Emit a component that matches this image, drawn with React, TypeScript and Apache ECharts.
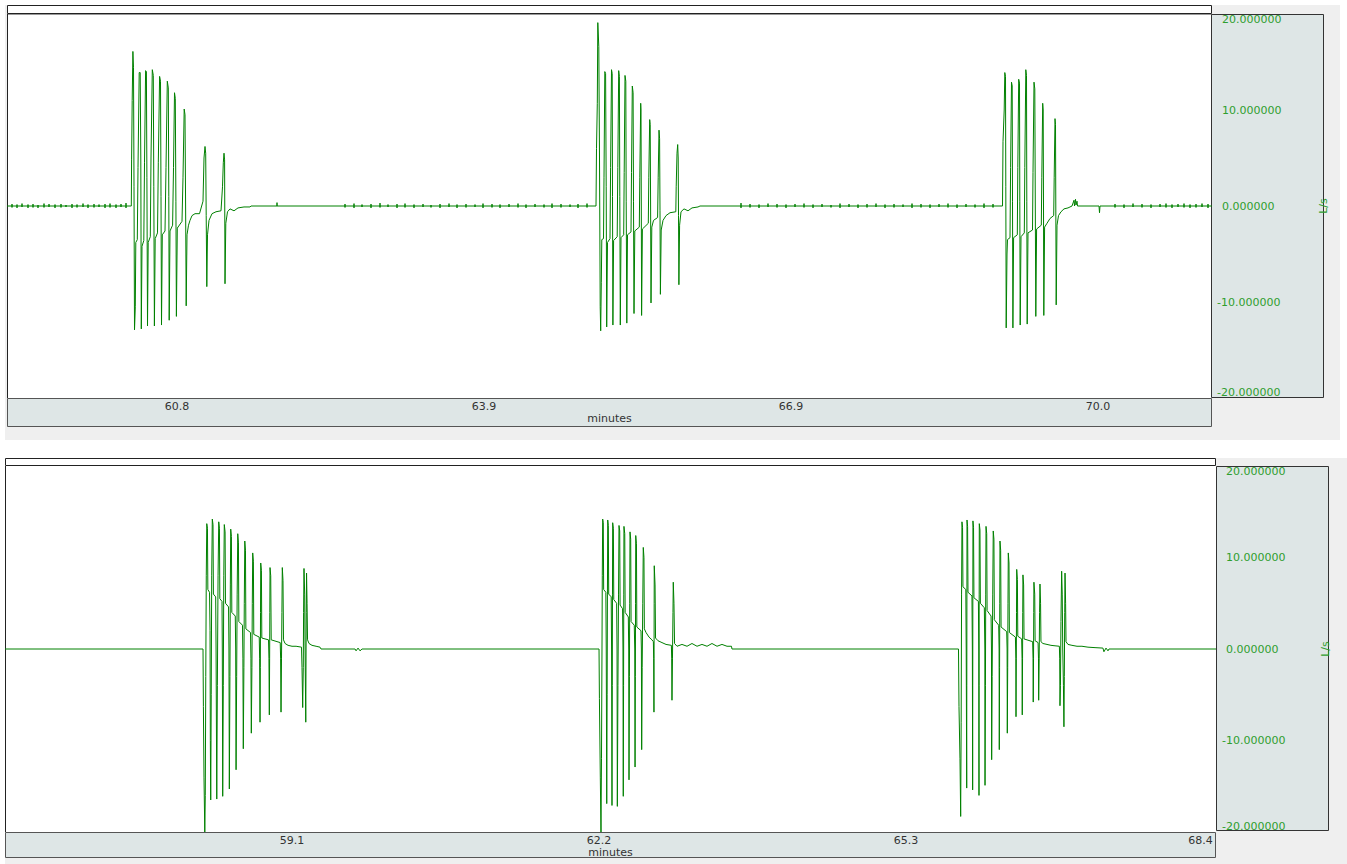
import React, { useEffect, useRef } from "react";
import * as echarts from "echarts";

type Pt = [number, number];
type Tick = [number, number, number];

// ---------- axes / labels ----------
const TOP_X_TICKS = [60.79, 63.86, 66.93, 70.0];
const BOTTOM_X_TICKS = [59.1, 62.2, 65.3, 68.4];
const TOP_X_MIN = 59.09;
const TOP_X_MAX = 71.14;
const BOTTOM_X_MIN = 56.2;
const BOTTOM_X_MAX = 68.432;
const Y_MIN = -20;
const Y_MAX = 20;
const Y_STEP = 10;
const X_NAME = "minutes";
const Y_NAME = "L/s";

// ---------- top panel: flow bursts [minutes, L/s] ----------
const topBurstA: Pt[] = [
  [60.333, 0], [60.336, 4.8], [60.342, 11.0], [60.349, 16.1], [60.355, 14.4], [60.36, 2.0], [60.365, -12.9], [60.373, -10.5], [60.378, -3.8], [60.393, -3.5],
  [60.4, 4.0], [60.412, 13.9], [60.422, 13.9], [60.428, 5.0], [60.433, -12.8], [60.44, -4.2], [60.458, -3.6],
  [60.465, 4.5], [60.476, 14.1], [60.484, 14.0], [60.489, 3.0], [60.495, -12.5], [60.502, -3.8], [60.523, -3.2],
  [60.53, 5.0], [60.543, 14.2], [60.553, 13.6], [60.558, 2.0], [60.564, -12.5], [60.572, -3.4], [60.595, -2.8],
  [60.603, 4.5], [60.616, 13.5], [60.625, 13.0], [60.63, 1.0], [60.635, -12.4], [60.643, -3.0], [60.67, -2.6],
  [60.68, 4.0], [60.693, 13.0], [60.703, 12.3], [60.708, 1.0], [60.712, -11.9], [60.72, -2.6], [60.746, -2.0],
  [60.755, 4.0], [60.765, 11.8], [60.773, 11.2], [60.779, 0.5], [60.784, -11.5], [60.793, -2.3], [60.84, -1.6],
  [60.85, 3.0], [60.862, 10.1], [60.87, 9.5], [60.876, 0], [60.882, -10.4], [60.89, -3.0], [60.905, -2.0], [60.92, -1.5], [60.94, -1.0], [60.97, -0.8], [61.015, -0.8],
  [61.05, 0.5], [61.06, 5.0], [61.07, 6.2], [61.077, 5.5], [61.082, -1.0], [61.088, -8.4], [61.095, -3.0], [61.11, -1.5], [61.14, -0.8], [61.18, -0.6], [61.23, -0.5],
  [61.245, 2.0], [61.253, 4.5], [61.26, 5.5], [61.266, 4.8], [61.27, -8.1], [61.278, -1.8], [61.295, -0.6], [61.32, -0.3], [61.36, -0.5], [61.4, -0.2], [61.46, -0.1], [61.52, -0.1], [61.53, 0], [61.77, 0],
];

const topBurstB: Pt[] = [
  [64.98, 0], [64.985, 6.0], [64.993, 10.7], [64.998, 19.1], [65.005, 19.1], [65.008, 16.6], [65.015, 5.0], [65.022, -10.5], [65.027, -13.0], [65.033, -8.0], [65.038, -3.5], [65.055, -3.4],
  [65.06, 3.0], [65.068, 14.0], [65.076, 13.8], [65.082, 2.0], [65.087, -12.6], [65.095, -3.8], [65.12, -3.4],
  [65.126, 4.0], [65.135, 14.2], [65.142, 13.8], [65.145, 1.0], [65.149, -12.4], [65.156, -3.6], [65.192, -3.2],
  [65.198, 4.0], [65.207, 14.1], [65.214, 13.5], [65.218, 1.0], [65.223, -12.4], [65.23, -3.3], [65.257, -3.0],
  [65.262, 3.5], [65.27, 13.6], [65.278, 13.0], [65.282, 0.5], [65.288, -12.2], [65.295, -3.0], [65.33, -2.7],
  [65.335, 3.5], [65.343, 12.5], [65.351, 11.8], [65.355, 0.5], [65.36, -11.2], [65.368, -2.6], [65.413, -2.2],
  [65.418, 3.0], [65.427, 10.7], [65.43, 10.0], [65.433, 0], [65.436, -11.4], [65.444, -2.4], [65.503, -1.8],
  [65.508, 3.0], [65.517, 9.0], [65.522, 8.5], [65.526, 0], [65.53, -10.1], [65.538, -2.2], [65.555, -1.5], [65.596, -1.2],
  [65.602, 3.0], [65.61, 7.9], [65.616, 7.0], [65.62, -0.5], [65.624, -9.2], [65.632, -2.5], [65.65, -1.5], [65.68, -1.0], [65.72, -0.7], [65.778, -0.6],
  [65.782, 2.0], [65.79, 5.5], [65.797, 6.4], [65.802, 5.0], [65.805, -1.0], [65.809, -8.2], [65.816, -2.0], [65.83, -0.6], [65.86, -0.3], [65.9, -0.5], [65.94, -0.2], [66.0, -0.1], [66.02, 0],
];

const topBurstC: Pt[] = [
  [69.045, 0], [69.05, 6.7], [69.062, 10.0], [69.068, 13.9], [69.075, 13.5], [69.078, 2.0], [69.082, -12.7], [69.09, -5.0], [69.095, -3.5], [69.12, -3.3],
  [69.126, 4.0], [69.135, 12.9], [69.142, 12.5], [69.145, 0.5], [69.149, -12.7], [69.156, -3.3], [69.193, -3.0],
  [69.198, 4.0], [69.207, 13.2], [69.215, 12.8], [69.218, 0.5], [69.222, -12.4], [69.23, -3.2], [69.263, -2.8],
  [69.268, 4.0], [69.278, 14.2], [69.285, 13.6], [69.288, 0.5], [69.292, -12.3], [69.3, -2.8], [69.345, -2.5],
  [69.35, 3.5], [69.36, 12.9], [69.368, 12.2], [69.373, 0], [69.378, -11.5], [69.386, -2.4], [69.433, -2.0],
  [69.438, 3.0], [69.447, 10.7], [69.452, 10.0], [69.455, 0], [69.458, -11.4], [69.466, -2.2], [69.49, -1.8], [69.52, -1.3], [69.557, -1.0],
  [69.562, 3.0], [69.57, 9.1], [69.575, 8.5], [69.578, 0], [69.582, -10.3], [69.59, -2.0], [69.605, -1.0], [69.63, -0.6], [69.66, -0.3], [69.7, -0.2], [69.74, 0],
  [69.76, 0.6], [69.765, 0], [69.775, 0.7], [69.78, 0.1], [69.79, 0.5], [69.795, 0], [69.82, 0], [70.01, 0], [70.015, -0.7], [70.02, 0],
];

// baseline noise ticks on the top trace: [minutes, up, down]
const topNoise1: Tick[] = [
  [59.14, 0.2, -0.15], [59.19, 0.15, -0.2], [59.24, 0.25, -0.1], [59.3, 0.15, -0.2], [59.35, 0.2, -0.15], [59.4, 0.1, -0.2],
  [59.46, 0.25, -0.15], [59.51, 0.2, -0.1], [59.57, 0.15, -0.2], [59.63, 0.2, -0.15], [59.68, 0.1, -0.1], [59.74, 0.2, -0.2],
  [59.79, 0.15, -0.15], [59.85, 0.25, -0.1], [59.9, 0.15, -0.2], [59.96, 0.2, -0.15], [60.01, 0.15, -0.1], [60.07, 0.2, -0.2],
  [60.12, 0.25, -0.15], [60.18, 0.15, -0.2], [60.23, 0.2, -0.1], [60.28, 0.3, -0.2],
];
const topNoise2: Tick[] = [
  [61.79, 0.35, 0], [62.47, 0.2, -0.15], [62.56, 0.25, -0.2], [62.64, 0.15, -0.1], [62.73, 0.2, -0.2], [62.82, 0.3, -0.15],
  [62.9, 0.15, -0.1], [62.99, 0.2, -0.2], [63.07, 0.25, -0.15], [63.16, 0.15, -0.2], [63.25, 0.2, -0.1], [63.33, 0.1, -0.15],
  [63.42, 0.2, -0.2], [63.51, 0.25, -0.1], [63.59, 0.15, -0.2], [63.68, 0.2, -0.15], [63.77, 0.15, -0.1], [63.85, 0.25, -0.2],
  [63.94, 0.2, -0.15], [64.02, 0.15, -0.2], [64.11, 0.2, -0.1], [64.2, 0.25, -0.15], [64.28, 0.15, -0.2], [64.37, 0.2, -0.1],
  [64.46, 0.15, -0.15], [64.54, 0.25, -0.2], [64.63, 0.2, -0.15], [64.72, 0.15, -0.1], [64.8, 0.2, -0.2], [64.89, 0.25, -0.15],
];
const topNoise3: Tick[] = [
  [66.43, 0.3, -0.2], [66.52, 0.2, -0.15], [66.61, 0.15, -0.2], [66.7, 0.25, -0.1], [66.79, 0.2, -0.15], [66.88, 0.15, -0.2],
  [66.97, 0.2, -0.1], [67.06, 0.25, -0.15], [67.15, 0.15, -0.2], [67.24, 0.2, -0.1], [67.33, 0.1, -0.15], [67.42, 0.25, -0.2],
  [67.51, 0.2, -0.1], [67.6, 0.15, -0.2], [67.69, 0.2, -0.15], [67.78, 0.25, -0.1], [67.87, 0.15, -0.2], [67.96, 0.2, -0.15],
  [68.05, 0.15, -0.1], [68.14, 0.25, -0.2], [68.23, 0.2, -0.15], [68.32, 0.15, -0.2], [68.41, 0.2, -0.1], [68.5, 0.25, -0.15],
  [68.59, 0.15, -0.2], [68.68, 0.2, -0.1], [68.77, 0.15, -0.15], [68.86, 0.25, -0.2], [68.95, 0.2, -0.15],
];
const topNoise4: Tick[] = [
  [70.17, 0.2, -0.15], [70.26, 0.15, -0.2], [70.35, 0.25, -0.1], [70.44, 0.2, -0.15], [70.53, 0.15, -0.2], [70.62, 0.2, -0.1],
  [70.68, 0.25, -0.15], [70.74, 0.15, -0.2], [70.8, 0.2, -0.1], [70.86, 0.25, -0.15], [70.92, 0.15, -0.2], [70.98, 0.2, -0.15],
  [71.04, 0.25, -0.1], [71.1, 0.2, -0.2],
];

// ---------- bottom panel: flow bursts [minutes, L/s] ----------
const bottomBurstD: Pt[] = [
  [58.2, 0], [58.204, -6.3], [58.21, -14], [58.218, -20], [58.223, -16], [58.228, -3], [58.233, 8], [58.238, 13.7], [58.245, 13.2], [58.249, 6.5], [58.266, 6.2], [58.271, 2], [58.274, -10], [58.278, -16.5],
  [58.283, -5], [58.288, 8], [58.294, 14.2], [58.301, 13.6], [58.305, 6.0], [58.328, 5.7], [58.332, 0], [58.339, -16.4],
  [58.345, -4], [58.352, 8], [58.359, 13.9], [58.366, 13.2], [58.37, 5.5], [58.392, 5.2], [58.395, 0], [58.399, -16.1],
  [58.405, -4], [58.41, 8], [58.415, 13.6], [58.423, 12.8], [58.427, 5.0], [58.458, 4.6], [58.462, 0], [58.466, -15.3],
  [58.472, -3], [58.476, 7], [58.48, 13.1], [58.487, 12.3], [58.491, 4.0], [58.526, 3.6], [58.53, 0], [58.534, -13.2],
  [58.54, -3], [58.545, 6], [58.551, 12.6], [58.558, 11.6], [58.562, 3.0], [58.599, 2.6], [58.603, -1], [58.607, -10.9],
  [58.613, -2], [58.617, 5], [58.622, 11.8], [58.629, 10.8], [58.633, 2.2], [58.68, 1.8], [58.684, -1], [58.688, -9.2],
  [58.694, -2], [58.698, 5], [58.702, 10.5], [58.709, 9.6], [58.713, 1.6], [58.768, 1.3], [58.772, -1], [58.776, -8.0],
  [58.779, -2], [58.781, 4], [58.783, 9.4], [58.79, 8.6], [58.794, 1.2], [58.862, 1.0], [58.866, -1], [58.87, -7.2],
  [58.873, -1], [58.875, 4], [58.877, 8.9], [58.884, 8.0], [58.889, 1.0], [58.98, 0.7], [58.984, -1], [58.988, -6.9],
  [58.993, -1], [58.997, 4], [59.001, 8.9], [59.008, 7.5], [59.013, 1.0], [59.029, 0.6], [59.059, 0.4], [59.099, 0.3], [59.14, 0.3], [59.195, 0.2],
  [59.2, -2], [59.207, -6.4], [59.213, -2], [59.216, 4], [59.22, 8.8], [59.227, 6], [59.231, 0], [59.238, -8.0], [59.241, 0], [59.243, 4], [59.246, 8.3], [59.251, 5], [59.256, 1.0],
  [59.271, 0.6], [59.301, 0.4], [59.342, 0.3], [59.382, 0.2], [59.392, 0],
  [59.736, 0], [59.746, -0.2], [59.766, 0.1], [59.786, -0.2], [59.806, 0],
];

const bottomBurstE: Pt[] = [
  [62.2, 0], [62.204, -5.4], [62.213, -14], [62.22, -20], [62.225, -12], [62.23, 0], [62.233, 8], [62.237, 14.2], [62.243, 13.8], [62.247, 6.5], [62.269, 6.2], [62.273, 0], [62.278, -16.9],
  [62.282, -5], [62.285, 6], [62.288, 14.1], [62.294, 13.5], [62.298, 6.0], [62.323, 5.7], [62.327, 0], [62.331, -17.1],
  [62.334, -4], [62.336, 6], [62.338, 13.8], [62.345, 13.2], [62.349, 5.4], [62.378, 5.0], [62.382, 0], [62.385, -17.2],
  [62.391, -4], [62.397, 6], [62.402, 13.5], [62.409, 12.9], [62.413, 4.8], [62.438, 4.4], [62.442, 0], [62.445, -16.1],
  [62.448, -4], [62.45, 6], [62.452, 13.4], [62.46, 12.6], [62.464, 4.0], [62.496, 3.5], [62.5, 0], [62.503, -14.3],
  [62.507, -3], [62.51, 5], [62.513, 12.8], [62.52, 12.0], [62.524, 3.0], [62.556, 2.6], [62.561, 0], [62.564, -12.9],
  [62.567, -3], [62.569, 5], [62.571, 12.4], [62.578, 11.5], [62.582, 2.4], [62.624, 2.0], [62.628, 0], [62.631, -11.0],
  [62.636, -2], [62.642, 5], [62.647, 11.1], [62.654, 10.0], [62.658, 2.2], [62.675, 1.8], [62.705, 1.3], [62.735, 1.0], [62.749, 0.8], [62.752, -1], [62.755, -6.9],
  [62.756, -1], [62.757, 5], [62.758, 9.1], [62.766, 7.0], [62.771, 1.2], [62.796, 0.9], [62.836, 0.7], [62.877, 0.5], [62.931, 0.4], [62.934, -1], [62.937, -5.6],
  [62.942, -1], [62.947, 4], [62.95, 7.3], [62.957, 5], [62.963, 0.6], [62.988, 0.3], [63.038, 0.5], [63.089, 0.3], [63.139, 0.6], [63.19, 0.3], [63.24, 0.5],
  [63.291, 0.3], [63.341, 0.6], [63.392, 0.3], [63.442, 0.5], [63.493, 0.3], [63.538, 0.3], [63.543, 0],
];

const bottomBurstF: Pt[] = [
  [65.831, 0], [65.836, -6.3], [65.846, -12], [65.853, -18.3], [65.858, -8], [65.862, 6], [65.866, 13.9], [65.872, 13.3], [65.876, 6.8], [65.905, 6.5], [65.909, 0], [65.914, -15.2],
  [65.915, -4], [65.916, 6], [65.917, 14.1], [65.923, 13.4], [65.927, 6.2], [65.967, 5.8], [65.971, 0], [65.974, -15.4],
  [65.975, -4], [65.976, 6], [65.977, 14.0], [65.983, 13.3], [65.987, 5.6], [66.032, 5.2], [66.036, 0], [66.038, -16.0],
  [66.039, -4], [66.04, 6], [66.041, 13.7], [66.048, 13.0], [66.052, 5.0], [66.092, 4.5], [66.097, 0], [66.099, -14.9],
  [66.103, -4], [66.106, 6], [66.109, 13.4], [66.116, 12.6], [66.12, 4.2], [66.16, 3.6], [66.164, 0], [66.166, -12.1],
  [66.171, -3], [66.177, 6], [66.182, 12.9], [66.189, 12.0], [66.193, 3.2], [66.237, 2.6], [66.241, 0], [66.243, -11.0],
  [66.246, -2], [66.248, 5], [66.25, 11.8], [66.257, 10.8], [66.261, 2.4], [66.318, 1.9], [66.322, 0], [66.324, -9.2],
  [66.328, -2], [66.331, 5], [66.334, 10.5], [66.341, 9.4], [66.345, 1.8], [66.406, 1.3], [66.41, -1], [66.412, -7.4],
  [66.415, -1], [66.417, 4], [66.419, 8.7], [66.426, 7.6], [66.43, 1.4], [66.469, 1.1], [66.473, -1], [66.475, -7.2],
  [66.478, -1], [66.48, 4], [66.482, 8.1], [66.489, 7.0], [66.493, 1.1], [66.58, 0.8], [66.584, -1], [66.586, -5.8],
  [66.589, -1], [66.591, 4], [66.593, 7.3], [66.601, 6.0], [66.605, 0.9], [66.635, 0.7], [66.639, -1], [66.641, -5.6],
  [66.646, -1], [66.65, 4], [66.654, 7.1], [66.66, 5], [66.664, 0.8], [66.684, 0.6], [66.725, 0.5], [66.765, 0.4], [66.806, 0.35], [66.85, 0.3], [66.853, -1], [66.856, -6.2],
  [66.861, -4], [66.866, 3], [66.873, 8.5], [66.879, 6], [66.884, 0], [66.891, -4], [66.896, -8.5], [66.9, -3], [66.904, 4], [66.907, 8.3], [66.913, 5], [66.917, 0.8],
  [66.937, 0.5], [66.977, 0.4], [67.028, 0.3], [67.078, 0.3], [67.139, 0.2], [67.21, 0.15], [67.29, 0.1], [67.3, -0.3], [67.321, 0.1], [67.341, -0.2], [67.351, 0],
];

// ---------- styling ----------
const FONT = "DejaVu Sans";
const LINE_GREEN = "#008000";
const TEXT_GREEN = "#2e9e2e";
const TEXT_DARK = "#333333";
const PANEL = "#dee6e6";
const OUTER = "#efefef";

function expandTicks(ticks: Tick[]): Pt[] {
  const out: Pt[] = [];
  for (const [t, up, down] of ticks) {
    out.push([t, 0], [t, up], [t, down], [t, 0]);
  }
  return out;
}

const topData: Pt[] = [
  [TOP_X_MIN, 0],
  ...expandTicks(topNoise1),
  ...topBurstA,
  ...expandTicks(topNoise2),
  ...topBurstB,
  ...expandTicks(topNoise3),
  ...topBurstC,
  ...expandTicks(topNoise4),
  [TOP_X_MAX, 0],
];

const bottomData: Pt[] = [
  [BOTTOM_X_MIN, 0],
  ...bottomBurstD,
  ...bottomBurstE,
  ...bottomBurstF,
  [BOTTOM_X_MAX, 0],
];

function yAxis(gridIndex: number, margin: number, pad: number, nameGap: number) {
  return {
    type: "value",
    gridIndex,
    position: "right",
    min: Y_MIN,
    max: Y_MAX,
    interval: Y_STEP,
    axisLine: { show: false },
    axisTick: { show: false },
    splitLine: { show: false },
    axisLabel: {
      margin,
      align: "left",
      verticalAlignMaxLabel: "top",
      verticalAlignMinLabel: "bottom",
      color: TEXT_GREEN,
      fontSize: 11,
      fontFamily: FONT,
      formatter: (v: number) => (v < 0 ? `{n|${v.toFixed(6)}}` : `{p|${v.toFixed(6)}}`),
      rich: {
        n: { color: TEXT_GREEN, fontSize: 11, fontFamily: FONT },
        p: { color: TEXT_GREEN, fontSize: 11, fontFamily: FONT, padding: [0, 0, 0, pad] },
      },
    },
    name: Y_NAME,
    nameLocation: "middle",
    nameGap,
    nameRotate: 90,
    nameTextStyle: { color: TEXT_GREEN, fontSize: 11, fontFamily: FONT },
  };
}

function xAxis(gridIndex: number, min: number, max: number, ticks: number[], nameGap: number, alignRight: boolean) {
  return {
    type: "value",
    gridIndex,
    min,
    max,
    axisLine: { show: false },
    axisTick: { show: false },
    splitLine: { show: false },
    axisLabel: {
      customValues: ticks,
      formatter: (v: number) => v.toFixed(1),
      margin: 3,
      color: TEXT_DARK,
      fontSize: 11,
      fontFamily: FONT,
      ...(alignRight ? { alignMaxLabel: "right" } : {}),
    },
    name: X_NAME,
    nameLocation: "middle",
    nameGap,
    nameTextStyle: { color: TEXT_DARK, fontSize: 11, fontFamily: FONT },
  };
}

const panels = [
  // top panel
  { type: "rect", z: -10, silent: true, shape: { x: 5, y: 5, width: 1335, height: 435 }, style: { fill: OUTER } },
  { type: "rect", z: -9, silent: true, shape: { x: 7, y: 14, width: 1205, height: 384 }, style: { fill: "#ffffff" } },
  { type: "rect", z: -8, silent: true, shape: { x: 7.5, y: 5.5, width: 1204, height: 8 }, style: { fill: "#ffffff", stroke: "#222222", lineWidth: 1 } },
  { type: "line", z: -8, silent: true, shape: { x1: 7, y1: 14.5, x2: 1212, y2: 14.5 }, style: { stroke: "#999999", lineWidth: 1 } },
  { type: "line", z: -8, silent: true, shape: { x1: 7.5, y1: 14, x2: 7.5, y2: 398 }, style: { stroke: "#222222", lineWidth: 1 } },
  { type: "rect", z: -8, silent: true, shape: { x: 1211.5, y: 14.5, width: 112, height: 383 }, style: { fill: PANEL, stroke: "#333333", lineWidth: 1 } },
  { type: "rect", z: -8, silent: true, shape: { x: 7.5, y: 398.5, width: 1204, height: 28 }, style: { fill: PANEL, stroke: "#555555", lineWidth: 1 } },
  // bottom panel
  { type: "rect", z: -10, silent: true, shape: { x: 1216, y: 458, width: 131, height: 406 }, style: { fill: OUTER } },
  { type: "rect", z: -10, silent: true, shape: { x: 5, y: 858, width: 1342, height: 6 }, style: { fill: OUTER } },
  { type: "rect", z: -8, silent: true, shape: { x: 5.5, y: 458.5, width: 1210, height: 7 }, style: { fill: "#ffffff", stroke: "#222222", lineWidth: 1 } },
  { type: "line", z: -8, silent: true, shape: { x1: 5.5, y1: 466, x2: 5.5, y2: 832 }, style: { stroke: "#222222", lineWidth: 1 } },
  { type: "rect", z: -8, silent: true, shape: { x: 1216.5, y: 466.5, width: 112, height: 364 }, style: { fill: PANEL, stroke: "#333333", lineWidth: 1 } },
  { type: "rect", z: -8, silent: true, shape: { x: 5.5, y: 832.5, width: 1210, height: 25 }, style: { fill: PANEL, stroke: "#555555", lineWidth: 1 } },
];

export default function App() {
  const ref = useRef<HTMLDivElement>(null);

  useEffect(() => {
    document.body.style.margin = "0";
    if (!ref.current) return;
    const chart = echarts.init(ref.current, undefined, { renderer: "svg" });
    chart.setOption({
      animation: false,
      backgroundColor: "#ffffff",
      textStyle: { fontFamily: FONT },
      grid: [
        { left: 7, top: 14, width: 1205, height: 384, containLabel: false },
        { left: 5, top: 466, width: 1211, height: 366, containLabel: false },
      ],
      xAxis: [
        xAxis(0, TOP_X_MIN, TOP_X_MAX, TOP_X_TICKS, 15, false),
        xAxis(1, BOTTOM_X_MIN, BOTTOM_X_MAX, BOTTOM_X_TICKS, 14, true),
      ],
      yAxis: [yAxis(0, 5, 5, 106), yAxis(1, 6, 4, 104)],
      graphic: { elements: panels },
      series: [
        {
          type: "line",
          xAxisIndex: 0,
          yAxisIndex: 0,
          data: topData,
          showSymbol: false,
          symbol: "none",
          clip: true,
          lineStyle: { color: LINE_GREEN, width: 1 },
          silent: true,
        },
        {
          type: "line",
          xAxisIndex: 1,
          yAxisIndex: 1,
          data: bottomData,
          showSymbol: false,
          symbol: "none",
          clip: true,
          lineStyle: { color: LINE_GREEN, width: 1 },
          silent: true,
        },
      ],
    });
    return () => chart.dispose();
  }, []);

  return <div ref={ref} style={{ width: 1347, height: 864 }} />;
}
